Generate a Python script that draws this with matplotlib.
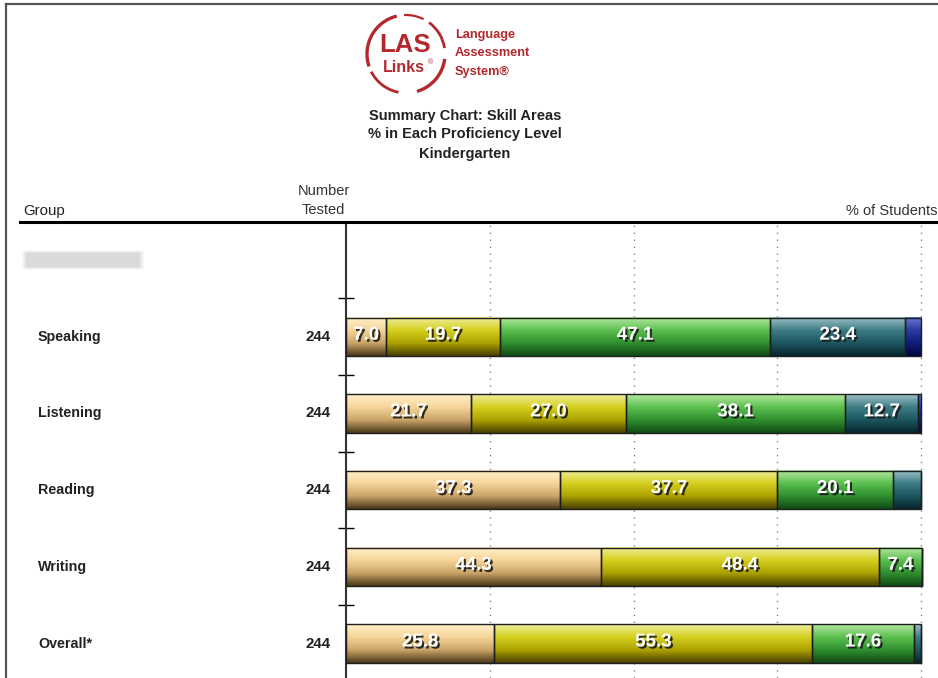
import numpy as np
import matplotlib
matplotlib.use('Agg')
import matplotlib.pyplot as plt
import matplotlib.patheffects as pe
from matplotlib.colors import LinearSegmentedColormap
from matplotlib.patches import Arc, FancyBboxPatch
from matplotlib.lines import Line2D

plt.rcParams['font.family'] = ['Liberation Sans', 'DejaVu Sans']

# data
groups = ['Speaking', 'Listening', 'Reading', 'Writing', 'Overall*']
n_tested = [244, 244, 244, 244, 244]
level1 = [7.0, 21.7, 37.3, 44.3, 25.8]
level2 = [19.7, 27.0, 37.7, 48.4, 55.3]
level3 = [47.1, 38.1, 20.1, 7.4, 17.6]
level4 = [23.4, 12.7, 4.9, 0.0, 1.3]
level5 = [2.8, 0.5, 0.0, 0.0, 0.0]
levels = [level1, level2, level3, level4, level5]

# gradient stops per level (top -> bottom)
level_grad = [
    ['#fff0c8', '#f6d59a', '#caa468', '#4a3818'],
    ['#eeee9a', '#d6d020', '#aca200', '#4a4000'],
    ['#b4e8a0', '#5cc050', '#2f8f2f', '#104a14'],
    ['#9cc0c8', '#3e7c84', '#1c5660', '#08262c'],
    ['#6a78d0', '#2a3aa0', '#101e78', '#000640'],
]

W, H = 938, 678
fig = plt.figure(figsize=(W / 100, H / 100), dpi=100)


def fx(x):
    return x / W


def fy(y):
    return 1 - y / H


# frame of the report
fig.add_artist(Line2D([fx(6), fx(6)], [fy(4), 0], color='#555555', lw=1.6))
fig.add_artist(Line2D([fx(6), 1], [fy(4), fy(4)], color='#555555', lw=1.6))

# logo
red = '#b3282d'
cx, cy = 406, 54
for t1, t2, r, lw in [(100, 205, 39, 2.4), (215, 262, 39, 2.0), (282, 350, 39, 2.4),
                      (12, 62, 39, 2.0), (70, 92, 39, 1.6)]:
    fig.add_artist(Arc((fx(cx), fy(cy)), 2 * r / W, 2 * r / H, theta1=t1, theta2=t2,
                       color=red, lw=lw, transform=fig.transFigure))
fig.text(fx(405), fy(45), 'LAS', ha='center', va='center', color=red,
         fontsize=18.5, fontweight='bold')
fig.text(fx(404), fy(68), 'Links', ha='center', va='center', color=red,
         fontsize=11.5, fontweight='bold')
fig.text(fx(430), fy(63), '®', ha='center', va='center', color=red, fontsize=5)
for i, s in enumerate(['Language', 'Assessment', 'System®']):
    fig.text(fx(455), fy(35 + 18.5 * i), s, ha='left', va='center', color=red,
             fontsize=9.2, fontweight='bold')

# titles
for y, s in [(116, 'Summary Chart: Skill Areas'), (134, '% in Each Proficiency Level'),
             (154, 'Kindergarten')]:
    fig.text(fx(465), fy(y), s, ha='center', va='center', color='#222222',
             fontsize=10.5, fontweight='bold')

# column headers
fig.text(fx(23), fy(211), 'Group', ha='left', va='center', fontsize=10.8, color='#222222')
fig.text(fx(350), fy(191), 'Number', ha='right', va='center', fontsize=10.5, color='#333333')
fig.text(fx(345), fy(210), 'Tested', ha='right', va='center', fontsize=10.5, color='#333333')
fig.text(fx(846), fy(211), '% of Students', ha='left', va='center', fontsize=10.5, color='#333333')
fig.add_artist(Line2D([fx(20), 1], [fy(222), fy(222)], color='black', lw=2.2))

# blurred group name
for k, a in enumerate([0.2, 0.3, 0.45]):
    fig.add_artist(FancyBboxPatch((fx(24 + 2 * k), fy(268 - k)), (118 - 4 * k) / W, (16 - 2 * k) / H,
                                  boxstyle='round,pad=0.002', facecolor='#cccccc',
                                  edgecolor='none', alpha=a, transform=fig.transFigure))

# chart area
px_per_pct = 5.75
row0, row_gap = 260, 76.7
ax = fig.add_axes([fx(346), 0, 1 - fx(346), (H - 222) / H])
ypos = np.arange(1, len(groups) + 1)
bar_h = 0.5

for xv in [25, 50, 75, 100]:
    ax.axvline(xv, color='#888888', lw=1.0, ls=(0, (1, 4)), zorder=1)

left = np.zeros(len(groups))
for li, vals in enumerate(levels):
    cmap = LinearSegmentedColormap.from_list('lv%d' % li, level_grad[li])
    grad = np.linspace(0, 1, 64).reshape(-1, 1)
    for i, v in enumerate(vals):
        if v <= 0:
            continue
        ax.imshow(grad, extent=(left[i], left[i] + v, ypos[i] + bar_h / 2, ypos[i] - bar_h / 2),
                  aspect='auto', cmap=cmap, zorder=2, interpolation='bilinear')
        if v >= 6:
            ax.text(left[i] + v / 2, ypos[i] - 0.02, '%.1f' % v, ha='center', va='center',
                    color='white', fontsize=13.5, fontweight='bold', zorder=5,
                    path_effects=[pe.withSimplePatchShadow(offset=(1.5, -1.5),
                                                           shadow_rgbFace='#1a1a1a', alpha=0.9)])
    ax.barh(ypos, vals, left=left, height=bar_h, facecolor='none',
            edgecolor='#1e1e1e', lw=1.0, zorder=3)
    left += np.array(vals)

ax.set_xlim(0, (W - 346) / px_per_pct)
ax.set_ylim((H - row0) / row_gap, (222 - row0) / row_gap)
ax.set_xticks([])
ax.set_yticks(np.arange(0.5, len(groups)))
ax.set_yticklabels([])
ax.tick_params(axis='y', direction='inout', length=12, width=1, color='black')
for s in ['top', 'right', 'bottom']:
    ax.spines[s].set_visible(False)
ax.spines['left'].set_color('#333333')
ax.spines['left'].set_linewidth(1.5)
ax.patch.set_alpha(0)

# row labels
for i, gname in enumerate(groups):
    y = row0 + row_gap * (i + 1)
    fig.text(fx(38), fy(y), gname, ha='left', va='center', fontsize=10.3,
             fontweight='bold', color='#222222')
    fig.text(fx(331), fy(y), str(n_tested[i]), ha='right', va='center', fontsize=10.8,
             fontweight='bold', color='#222222')

fig.savefig('out.png', dpi=100)
